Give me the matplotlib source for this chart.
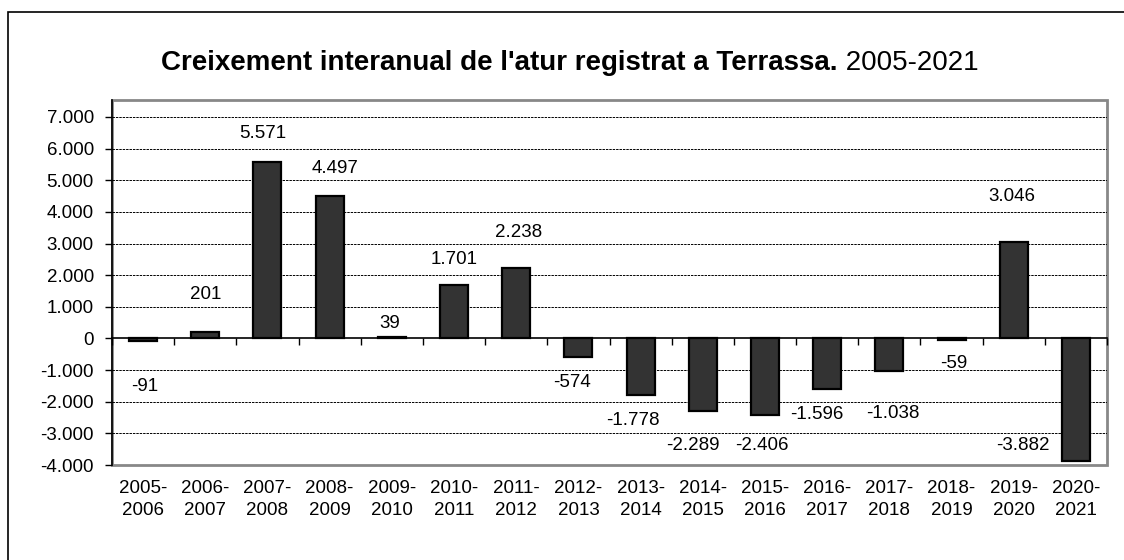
import matplotlib.pyplot as plt
import numpy as np
from matplotlib.patches import Rectangle
from matplotlib.ticker import FuncFormatter, FixedLocator

periods = ['2005-\n2006', '2006-\n2007', '2007-\n2008', '2008-\n2009', '2009-\n2010',
           '2010-\n2011', '2011-\n2012', '2012-\n2013', '2013-\n2014', '2014-\n2015',
           '2015-\n2016', '2016-\n2017', '2017-\n2018', '2018-\n2019', '2019-\n2020',
           '2020-\n2021']
values = [-91, 201, 5571, 4497, 39, 1701, 2238, -574, -1778, -2289, -2406,
          -1596, -1038, -59, 3046, -3882]

# where the data labels sit (the original has them scattered a bit)
label_y = [-1505, 1390, 6467, 5363, 473, 2502, 3364, -1385, -2596, -3385, -3385,
           -2397, -2366, -789, 4489, -3388]
label_dx = [0.03, 0, -0.07, 0.08, -0.03, 0, 0.03, -0.1, -0.13, -0.16, -0.05,
            -0.16, 0.06, 0.03, -0.03, -0.86]

yticks = list(range(-4000, 8000, 1000))

plt.rcParams['font.family'] = ['Liberation Sans', 'DejaVu Sans']
FS = 13.5


def fmt(v, pos=None):
    s = '{:,.0f}'.format(v).replace(',', '.')
    return s


fig = plt.figure(figsize=(11.24, 5.6), dpi=100)
fig.patches.append(Rectangle((8 / 1124, -0.05), 1.1, 0.05 + 1 - 12 / 560,
                             transform=fig.transFigure, fill=False,
                             edgecolor='black', linewidth=1.2))

ax = fig.add_axes([112 / 1124, 95 / 560, (1107 - 112) / 1124, (465 - 100) / 560])
x = np.arange(len(values))
ax.bar(x, values, width=0.45, color='#333333', edgecolor='black', linewidth=1.6, zorder=3)

ax.set_xlim(-0.5, len(values) - 0.5)
ax.set_ylim(-4000, 7536)
ax.yaxis.set_major_locator(FixedLocator(yticks))
ax.yaxis.set_major_formatter(FuncFormatter(fmt))
ax.tick_params(axis='y', direction='out', length=5, width=1, pad=8, labelsize=FS,
               colors='black')
for t in yticks:
    if t != 0:
        ax.axhline(t, color='black', linewidth=0.7, linestyle=(0, (2.5, 1)), zorder=1)

# category boundary ticks on the zero line
ax.spines['bottom'].set_position(('data', 0))
ax.spines['bottom'].set_color('black')
ax.spines['bottom'].set_linewidth(1.2)
ax.spines['bottom'].set_zorder(4)
ax.xaxis.set_major_locator(FixedLocator(np.arange(-0.5, len(values), 1.0)))
ax.tick_params(axis='x', direction='out', length=5, width=1, labelbottom=False)
for s in ['top', 'right']:
    ax.spines[s].set_visible(False)
ax.spines['left'].set_color('black')
ax.spines['left'].set_linewidth(1.2)
ax.add_patch(Rectangle((0, 0), 1, 1, transform=ax.transAxes, fill=False,
                       edgecolor='#888888', linewidth=2, clip_on=False, zorder=0))

# category labels at the bottom
ax2 = ax.twiny()
ax2.set_xlim(ax.get_xlim())
ax2.xaxis.set_ticks_position('bottom')
ax2.set_xticks(x)
ax2.set_xticklabels(periods, fontsize=FS, linespacing=1.35)
ax2.tick_params(axis='x', length=0, pad=11)
for s in ax2.spines.values():
    s.set_visible(False)

for i, v in enumerate(values):
    ax.text(x[i] + label_dx[i], label_y[i], fmt(v), ha='center', va='center',
            fontsize=FS, zorder=5)

t1 = fig.text(161 / 1124, 1 - 63 / 560, "Creixement interanual de l'atur registrat a Terrassa.",
              fontsize=20, fontweight='bold', ha='left', va='center')
ax.annotate(' 2005-2021', xy=(1, 0), xycoords=t1, fontsize=20, ha='left', va='bottom',
            annotation_clip=False)

fig.savefig('out.png', dpi=100)
